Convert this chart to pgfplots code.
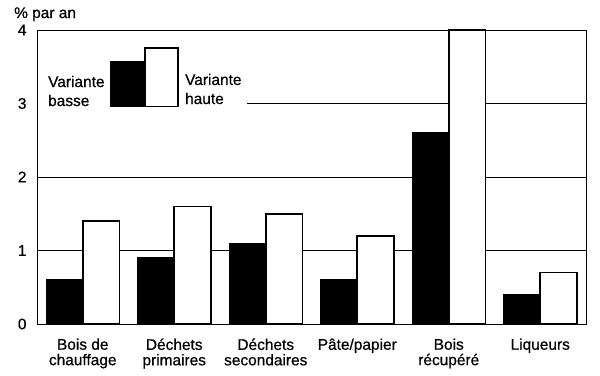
\documentclass[border=0pt]{standalone}
\usepackage{pgfplots}
\pgfplotsset{compat=1.18}
\usepackage{fontspec}
\setmainfont{Liberation Sans}[UprightFeatures={FakeBold=0.6}]
\newcommand{\lf}{\fontsize{15.5}{15.5}\selectfont}
\begin{document}
\begin{tikzpicture}
\useasboundingbox (-37bp,-52bp) rectangle (563bp,324bp);
\begin{axis}[
  scale only axis, width=549bp, height=294bp,
  at={(0,0)}, anchor=south west,
  xmin=-0.5, xmax=5.5, ymin=0, ymax=4,
  clip=false,
  axis line style={line width=0.8pt},
  ybar=0pt, bar width=0.4,
  xtick={0,1,2,3,4,5},
  xticklabels={Bois de\\chauffage, Déchets\\primaires, Déchets\\secondaires, Pâte/papier, Bois\\récupéré, Liqueurs},
  xticklabel style={align=center, font=\lf, yshift=-11bp},
  ytick={0,1,2,3,4},
  major tick length=0pt,
  /pgf/number format/assume math mode=true,
  yticklabel style={font=\lf, xshift=-7bp},
]
\draw[line width=0.7pt] (axis cs:-0.5,1) -- (axis cs:5.5,1);
\draw[line width=0.7pt] (axis cs:-0.5,2) -- (axis cs:5.5,2);
\draw[line width=0.7pt] (axis cs:1.795,3) -- (axis cs:5.5,3);
\addplot[fill=black, draw=black, line width=1pt] coordinates {(0,0.6) (1,0.9) (2,1.1) (3,0.6) (4,2.6) (5,0.4)};
\addplot[fill=white, draw=black, line width=1.7pt] coordinates {(0,1.4) (1,1.6) (2,1.5) (3,1.2) (4,4.0) (5,0.7)};
\draw[fill=black, line width=0.8pt] (axis cs:0.298,2.96) rectangle (axis cs:0.659,3.578);
\draw[fill=white, line width=1.5pt] (axis cs:0.680,2.96) rectangle (axis cs:1.041,3.755);
\node[anchor=base west, inner sep=0pt, font=\lf] at (axis cs:-0.380,3.224) {Variante};
\node[anchor=base west, inner sep=0pt, font=\lf] at (axis cs:-0.380,2.966) {basse};
\node[anchor=base west, inner sep=0pt, font=\lf] at (axis cs:1.117,3.252) {Variante};
\node[anchor=base west, inner sep=0pt, font=\lf] at (axis cs:1.117,2.993) {haute};
\node[anchor=base west, inner sep=0pt, font=\lf] at (axis cs:-0.5,4) [xshift=-23bp, yshift=12bp] {\% par an};
\end{axis}
\end{tikzpicture}
\end{document}
